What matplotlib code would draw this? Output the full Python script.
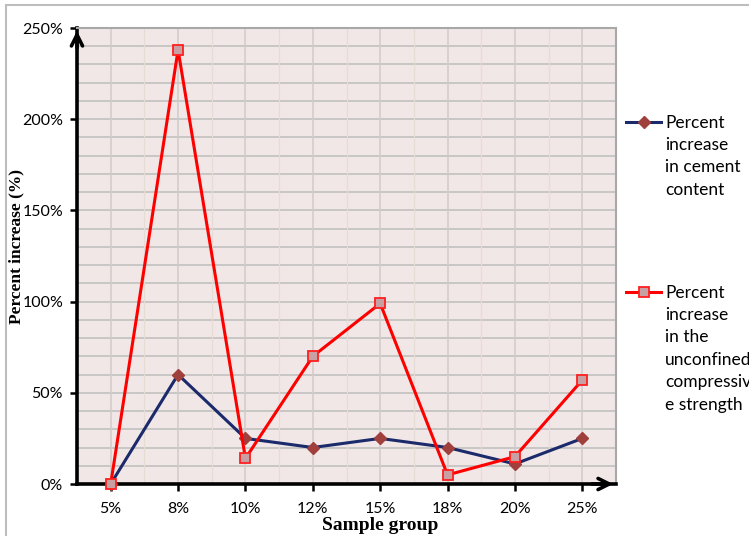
import matplotlib
matplotlib.use("Agg")
import matplotlib.pyplot as plt
from matplotlib.lines import Line2D
from matplotlib.patches import Rectangle
import numpy as np

categories = ["5%", "8%", "10%", "12%", "15%", "18%", "20%", "25%"]
cement = [0, 60, 25, 20, 25, 20, 11, 25]
ucs = [0, 238, 14, 70, 99, 5, 15, 57]
y_ticks = [0, 50, 100, 150, 200, 250]
y_tick_labels = ["0%", "50%", "100%", "150%", "200%", "250%"]
legend_labels = ["Percent\nincrease\nin cement\ncontent",
                 "Percent\nincrease\nin the\nunconfined\ncompressiv\ne strength"]

W, H = 749, 536
fig = plt.figure(figsize=(W / 100, H / 100), dpi=100)
sans = ["Lato", "DejaVu Sans"]
serif = ["Liberation Serif", "DejaVu Serif"]

# figure border
fig.patches.append(Rectangle((6 / W, -0.05), 1.1, 1 - 5 / H + 0.05, transform=fig.transFigure,
                             fill=False, edgecolor="#BDBDBD", lw=1.5, zorder=0))

left, right, bottom, top = 77 / W, 616 / W, 1 - 484 / H, 1 - 28 / H
ax = fig.add_axes([left, bottom, right - left, top - bottom])
ax.set_facecolor("#F2E7E7")

x = np.arange(len(categories))
ax.set_xlim(-0.5, len(categories) - 0.5)
ax.set_ylim(0, 250)

# grid
for yv in np.arange(10, 251, 10):
    ax.axhline(yv, color="#BDBDBD", lw=1.1, zorder=1)
for xv in x:
    ax.axvline(xv, color="#D2CACA", lw=1.1, zorder=1)
for xv in x[:-1] + 0.5:
    ax.axvline(xv, color="#E6DCD6", lw=0.9, zorder=1)

ax.plot(x, cement, color="#1B2A6B", lw=2.2, marker="D", markersize=6.5,
        markerfacecolor="#A0403C", markeredgecolor="#A0403C", zorder=3, clip_on=False)
ax.plot(x, ucs, color="#FF0000", lw=2.2, marker="s", markersize=7,
        markerfacecolor="#C8A0A4", markeredgecolor="#FF2020", markeredgewidth=1.3,
        zorder=4, clip_on=False)

for s in ["top", "right"]:
    ax.spines[s].set_color("#A8A8A8")
    ax.spines[s].set_linewidth(1.5)
for s in ["left", "bottom"]:
    ax.spines[s].set_color("black")
    ax.spines[s].set_linewidth(2.6)

ax.set_xticks(x)
ax.set_xticklabels(categories, fontfamily=sans, fontsize=11.5)
ax.set_yticks(y_ticks)
ax.set_yticklabels(y_tick_labels, fontfamily=sans, fontsize=11.5)
ax.tick_params(axis="both", direction="out", length=5, width=1.8, color="black")
ax.tick_params(axis="y", pad=5)
ax.tick_params(axis="x", pad=8)

# arrows
ax.annotate("", xy=(0, 1.0), xytext=(0, 0.95), xycoords="axes fraction",
            arrowprops=dict(arrowstyle="->", lw=2.6, color="black", mutation_scale=20),
            annotation_clip=False)
ax.annotate("", xy=(1.0, 0), xytext=(0.95, 0), xycoords="axes fraction",
            arrowprops=dict(arrowstyle="->", lw=2.6, color="black", mutation_scale=20),
            annotation_clip=False)

fig.text(16 / W, 1 - 247 / H, "Percent increase (%)", rotation=90, ha="center", va="center",
         fontfamily=serif, fontweight="bold", fontsize=12.5)
fig.text(380 / W, 1 - 526 / H, "Sample group", ha="center", va="center",
         fontfamily=serif, fontweight="bold", fontsize=14)

# legend (manual, Excel style)
leg_specs = [
    (122, dict(color="#1B2A6B"), dict(marker="D", markersize=6.5, markerfacecolor="#A0403C",
                                      markeredgecolor="#A0403C")),
    (292, dict(color="#FF0000"), dict(marker="s", markersize=7, markerfacecolor="#C8A0A4",
                                      markeredgecolor="#FF2020", markeredgewidth=1.3)),
]
for (yy, lst, mst), lab in zip(leg_specs, legend_labels):
    fy = 1 - yy / H
    fig.add_artist(Line2D([626 / W, 661 / W], [fy, fy], lw=2.2, transform=fig.transFigure, **lst))
    fig.add_artist(Line2D([643.5 / W], [fy], lw=0, transform=fig.transFigure, **mst))
    fig.text(665 / W, fy + 7.5 / H, lab, ha="left", va="top", fontfamily=sans,
             fontsize=12.5, linespacing=1.5)

fig.savefig("out.png", dpi=100)
